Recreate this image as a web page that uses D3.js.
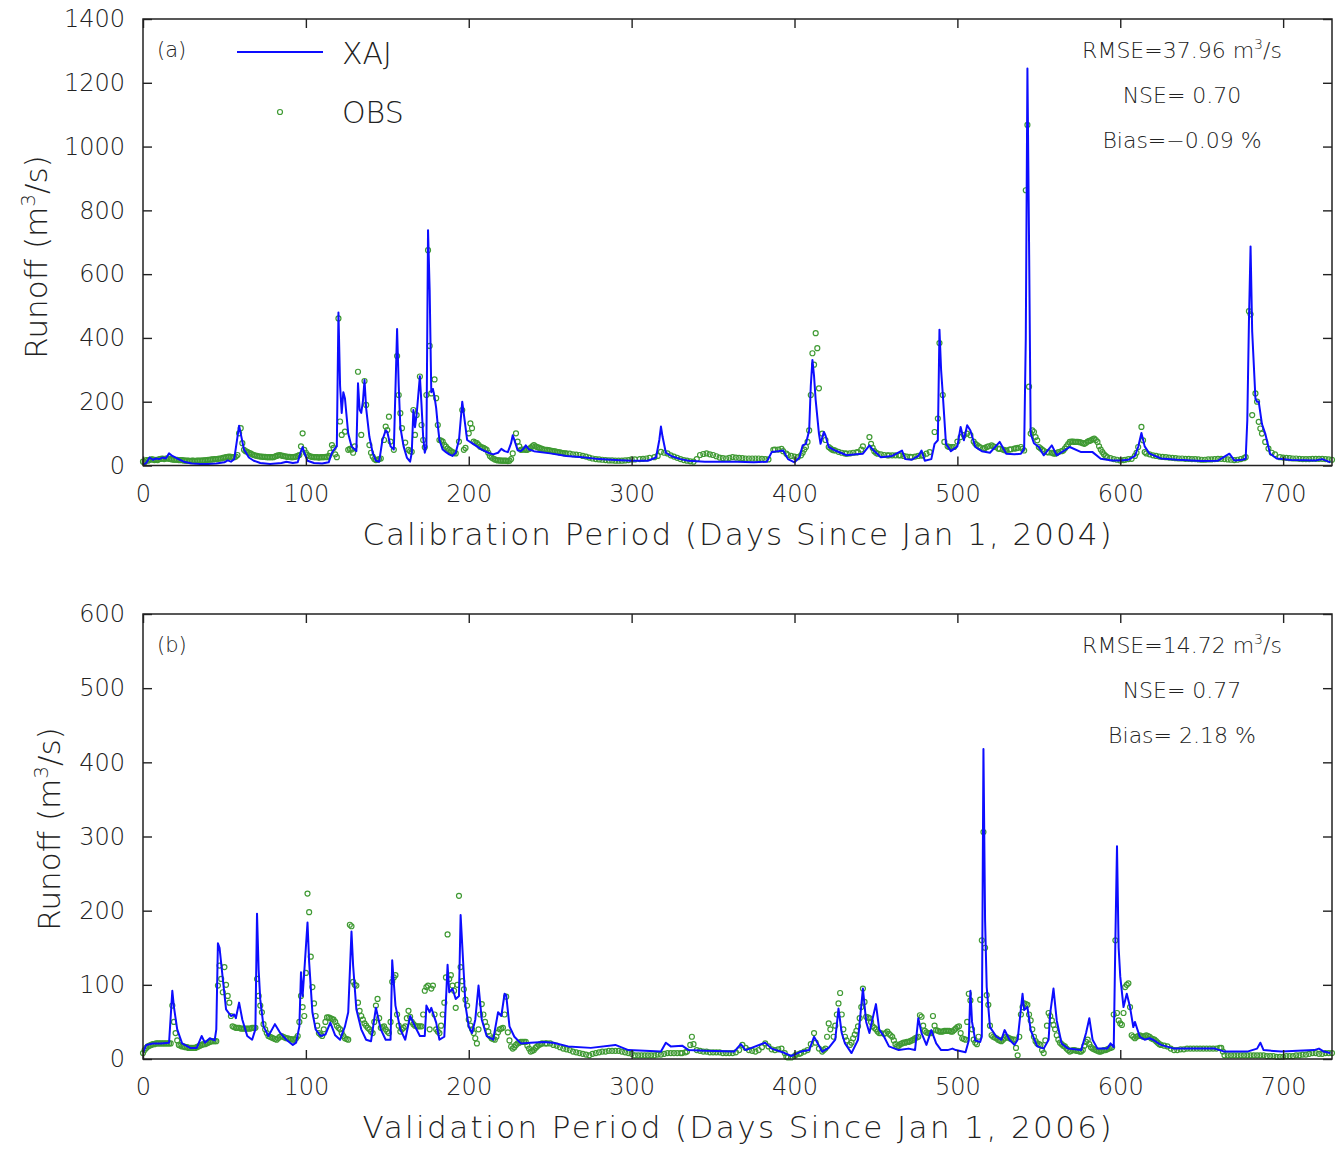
<!DOCTYPE html>
<html>
<head>
<meta charset="utf-8">
<script src="https://cdn.jsdelivr.net/npm/d3@7"></script>
<style>
  body { margin: 0; background: #fff; }
  svg { display: block; }
  text { font-family: "DejaVu Sans", sans-serif; font-weight: 200; }
</style>
</head>
<body>
<svg width="1341" height="1149"></svg>
<script>
// ---- data (day, runoff m3/s) ----

// (a) calibration period, simulated (XAJ)
const calSim = [[0,2],[2,8],[4,25],[6,18],[8,22],[10,20],[12,25],[14,22],[16,38],[18,30],[21,22],[25,12],[30,6],[35,5],[40,5],[45,6],[50,10],[52,16],[54,12],[56,20],[58,90],[59,125],[60,100],[62,50],[65,25],[68,15],[72,8],[78,5],[85,8],[88,12],[92,8],[95,10],[97,45],[98,58],[99,40],[101,15],[105,8],[110,6],[114,10],[116,40],[118,55],[119,60],[120,480],[121,250],[122,165],[123,230],[124,210],[126,100],[128,60],[131,45],[132,258],[133,175],[134,165],[135,200],[136,268],[137,180],[139,90],[141,40],[143,15],[145,12],[147,80],[149,110],[150,105],[152,60],[154,50],[156,428],[157,250],[158,120],[160,60],[162,25],[164,12],[165,40],[166,174],[167,120],[168,160],[170,280],[171,190],[172,90],[173,40],[174,60],[175,738],[176,550],[177,230],[178,240],[179,215],[180,180],[181,125],[182,80],[184,50],[186,42],[188,35],[190,30],[192,40],[194,80],[196,200],[197,160],[199,80],[202,70],[205,60],[208,50],[212,40],[215,35],[218,40],[220,52],[222,45],[224,42],[226,70],[227,95],[228,80],[230,48],[232,45],[234,55],[235,63],[237,50],[240,45],[250,38],[260,30],[270,26],[280,20],[290,17],[300,15],[310,15],[315,25],[317,80],[318,122],[319,90],[321,40],[325,28],[330,20],[335,15],[345,12],[355,12],[365,12],[375,10],[383,12],[386,42],[390,45],[393,47],[396,20],[400,10],[403,25],[405,63],[407,68],[409,110],[410,250],[411,331],[412,280],[413,205],[415,100],[416,68],[418,105],[419,95],[421,58],[425,47],[432,32],[438,35],[442,37],[446,63],[448,50],[453,26],[460,30],[466,47],[468,20],[472,18],[476,30],[478,47],[480,15],[484,20],[486,68],[488,79],[489,426],[490,300],[491,226],[493,68],[496,45],[500,60],[502,121],[504,79],[506,126],[508,110],[511,58],[515,45],[520,40],[526,74],[530,37],[535,35],[539,37],[541,53],[542,400],[543,1245],[544,700],[545,100],[547,70],[550,58],[553,32],[558,63],[561,32],[569,58],[576,42],[583,42],[588,21],[595,16],[600,16],[605,18],[609,30],[611,58],[613,102],[615,60],[618,37],[625,22],[635,18],[650,14],[660,15],[667,37],[670,16],[675,18],[677,21],[678,142],[679,450],[680,687],[681,420],[683,210],[684,200],[685,200],[687,130],[689,100],[692,37],[696,22],[705,17],[720,16],[724,20],[729,10]];

// (a) calibration period, observed (OBS)
const calObs = [[0,12],[1,10],[2,17],[3,15],[4,18],[5,19],[6,19],[7,17],[8,18],[9,17],[10,20],[11,21],[12,22],[13,20],[14,22],[15,22],[16,21],[17,20],[18,19],[19,18],[20,18],[21,18],[22,17],[23,17],[24,17],[25,16],[26,15],[27,15],[28,15],[29,14],[30,15],[31,15],[32,14],[33,15],[34,15],[35,15],[36,15],[37,16],[38,16],[39,17],[40,18],[41,18],[42,19],[43,19],[44,20],[45,20],[46,21],[47,22],[48,22],[49,24],[50,25],[51,26],[52,27],[53,28],[54,27],[55,26],[56,26],[57,28],[58,33],[59,101],[60,117],[61,70],
[62,49],[63,45],[64,43],[65,40],[66,38],[67,35],[68,33],[69,31],[70,30],[71,29],[72,28],[73,28],[74,27],[75,27],[76,26],[77,26],[78,26],[79,26],[80,26],[81,28],[82,30],[83,32],[84,33],[85,31],[86,30],[87,29],[88,28],[89,27],[90,27],[91,26],[92,26],[93,27],[94,28],[95,30],[96,33],[97,60],[98,101],[99,49],
[100,40],[101,33],[102,30],[103,28],[104,27],[105,26],[106,26],[107,26],[108,25],[109,26],[110,26],[111,26],[112,27],[113,26],[114,30],[115,40],[116,64],[117,55],[118,35],[119,26],[120,461],[121,138],[122,96],[124,106],[126,49],[127,52],[128,50],[129,40],[130,60],[132,294],[134,96],[136,265],[137,190],[139,64],[140,40],[141,28],[142,20],[143,17],[144,18],[145,20],[146,22],[148,80],[149,122],[150,111],[151,153],[152,75],[154,49],[156,343],[157,221],[158,164],[159,117],[161,72],[163,49],[164,45],[165,43],[166,174],[167,96],[168,158],[170,279],[171,127],[172,80],[173,57],[174,221],[175,675],[176,375],[177,226],[179,270],[180,211],[181,127],[182,80],[183,78],[184,75],[185,65],[186,59],[187,53],[188,49],[189,45],[190,42],[191,40],[192,38],[194,75],[196,174],[197,49],[198,55],[200,101],[201,132],[202,117],[203,75],[204,72],
[205,70],[206,65],[207,59],[208,57],[209,55],[210,52],[211,49],[212,40],[213,30],[214,25],[215,22],[216,19],[217,17],[218,16],[219,16],[220,15],[221,15],[222,15],[223,15],[224,14],[225,15],[226,20],[227,38],[229,101],[230,75],[231,60],[232,49],[233,50],[234,50],[235,49],[236,49],[237,52],[238,55],[239,60],[240,64],[241,60],[242,58],[243,56],[244,54],[245,52],[246,50],[247,49],[248,49],[249,48],[250,47],[251,46],[252,45],[253,44],[254,43],[255,42],[256,41],[257,40],[258,39],[259,38],[260,38],[262,37],[264,35],[266,34],[268,33],[270,30],[272,28],[274,25],[276,22],[278,20],[280,19],[282,18],[284,17],[286,16],[288,16],[290,15],[292,15],[294,15],[296,16],[298,17],[300,19],[302,19],[305,20],[307,21],[309,22],[311,24],[314,26],[316,30],[318,43],[320,40],[322,38],[324,32],[326,28],[328,24],[330,20],[332,17],[334,15],[336,13],[338,12],[340,20],[342,33],[344,36],[346,38],[348,35],[350,33],[352,29],[354,25],[356,23],[358,22],[360,24],[362,26],[364,25],[366,24],[368,23],[370,22],[372,22],[374,22],[376,22],[378,22],[380,21],[382,20],[384,19],
[387,49],[388,50],[390,50],[392,52],[393,45],[395,37],[396,33],[398,30],[400,28],[402,26],[404,32],[405,40],[406,50],[407,58],[408,74],[409,110],[410,221],[411,352],[412,316],[413,415],[414,368],[415,242],[417,100],[419,80],
[421,58],[422,54],[423,50],[424,48],[425,47],[427,43],[429,40],[431,38],[432,37],[434,38],[436,40],[438,41],[439,42],[441,50],[442,60],[446,89],[447,68],[448,55],[449,45],[450,40],[451,37],[453,35],[455,33],[457,32],[458,32],[460,32],[462,32],[464,32],[465,32],[467,30],[469,28],[471,27],[472,26],[474,28],[476,30],[478,31],[479,32],[481,37],[483,42],
[486,105],[488,147],[489,384],[491,221],[492,74],[494,60],[495,58],[496,58],[497,58],[498,58],[500,75],[502,89],[504,95],[506,100],[508,95],[510,75],[511,68],[512,64],[513,60],[514,57],[516,53],[517,55],[518,58],[519,60],[521,63],[522,60],[523,58],[525,53],[526,52],[528,50],[529,48],[530,47],[532,50],[533,51],[535,53],[536,54],[537,55],[539,58],[540,52],[541,47],[542,863],[543,1068],[544,247],[545,100],[546,110],[547,105],[548,89],[549,79],[550,58],[551,54],
[552,50],[553,46],[555,42],[556,41],[558,40],[559,38],[560,37],[561,39],[562,42],[564,45],[565,47],[566,53],[567,60],[568,67],[569,74],[570,75],[571,75],[572,74],[573,74],[574,74],[575,73],[576,72],[577,70],[578,68],[579,71],[580,75],[581,77],[582,79],[583,82],[584,84],[585,80],[586,74],[587,60],[588,50],[589,42],[590,35],[591,30],[592,26],[594,23],[596,20],[598,18],[600,16],[602,17],[603,18],[605,20],[607,21],[609,30],
[610,40],[611,58],[613,121],[614,79],[615,42],[616,38],[618,35],[620,32],[622,30],[624,28],[626,27],[628,26],[630,25],[632,24],[634,23],[636,22],[638,22],[640,21],[642,21],[644,20],[646,20],[648,19],[650,18],[652,18],[654,19],[656,19],[658,20],[660,21],[662,21],[664,20],[666,19],[668,18],[670,17],[672,18],[674,20],[676,23],[677,26],[679,484],[680,474],[681,158],[683,226],[684,200],[685,137],[686,116],[687,100],[689,74],[691,53],[693,40],[695,35],[698,26],[700,25],[702,24],[704,23],[706,22],[708,22],[710,21],[712,20],[714,20],[716,20],[718,21],[720,21],[722,21],[724,21],[726,20],[728,19],[730,18]];

// (b) validation period, simulated (XAJ)
const valSim = [[0,8],[2,19],[6,21],[11,21],[16,22],[18,92],[19,70],[21,40],[24,21],[29,15],[33,15],[36,31],[38,22],[41,28],[44,25],[45,40],[46,156],[47,150],[49,108],[51,67],[54,58],[56,60],[57,55],[59,76],[61,53],[64,31],[67,26],[69,40],[70,196],[71,120],[72,80],[74,44],[77,31],[81,47],[84,36],[88,26],[92,19],[94,22],[96,44],[97,117],[98,85],[99,117],[101,184],[102,131],[104,63],[106,40],[109,31],[112,33],[115,49],[118,32],[121,26],[124,44],[126,63],[128,172],[129,126],[131,67],[134,40],[137,26],[140,24],[143,69],[146,40],[149,26],[152,26],[153,133],[155,72],[158,40],[161,26],[164,58],[167,44],[170,31],[173,31],[174,72],[176,63],[177,69],[180,49],[182,26],[185,30],[187,127],[188,90],[190,95],[192,81],[194,85],[195,194],[197,113],[198,72],[200,44],[202,35],[204,53],[206,99],[208,53],[211,31],[215,26],[218,63],[220,58],[222,88],[223,86],[225,44],[228,30],[232,21],[238,22],[246,23],[252,22],[261,17],[275,15],[290,19],[298,12],[318,10],[321,22],[324,17],[331,18],[335,12],[345,11],[363,10],[367,20],[370,12],[382,22],[386,14],[394,8],[398,4],[404,10],[409,12],[412,30],[417,10],[421,15],[425,26],[427,68],[429,35],[431,21],[435,8],[439,26],[442,95],[444,50],[446,35],[448,55],[450,74],[452,40],[455,30],[458,17],[464,12],[470,14],[474,12],[476,55],[478,35],[481,19],[484,39],[487,21],[490,12],[494,12],[497,14],[499,12],[505,9],[507,25],[508,92],[509,50],[511,25],[514,23],[515,30],[516,418],[517,187],[518,97],[520,43],[524,30],[527,26],[529,39],[532,26],[535,19],[537,26],[540,88],[541,66],[543,70],[545,39],[549,17],[553,14],[556,26],[557,62],[559,95],[561,52],[564,21],[568,14],[576,12],[579,35],[581,55],[583,26],[586,14],[592,14],[594,21],[596,16],[597,160],[598,287],[599,150],[600,111],[602,70],[604,88],[606,70],[608,43],[609,50],[612,30],[615,26],[618,28],[620,26],[625,19],[633,14],[648,14],[658,14],[664,10],[678,10],[684,14],[686,22],[688,12],[699,10],[709,11],[719,12],[722,14],[725,10],[729,8]];

// (b) validation period, observed (OBS)
const valObs = [[0,8],[1,12],[2,15],[3,17],[4,18],[5,19],[6,20],[7,20],[8,21],[9,21],[10,21],[11,21],[12,21],[13,21],[14,21],[15,21],[16,21],[17,21],[18,72],[19,50],[20,35],[21,25],[22,19],[23,18],[24,17],[25,17],[26,16],[27,16],[28,15],[29,15],[30,15],[31,15],[32,15],[33,16],[34,17],[35,18],[36,19],[37,20],[38,20],[39,21],[40,22],[41,23],[42,24],[43,24],[44,24],[45,24],[46,99],[47,126],[48,108],[49,90],[50,124],[51,100],[52,85],[53,76],[54,58],[55,44],[56,43],[57,42],[58,42],[59,42],[60,41],[61,41],[62,41],[63,41],[64,41],[65,41],[66,41],[67,42],[68,42],[69,42],[70,108],[71,85],[72,72],[73,63],[74,47],[75,40],[76,35],[77,31],[78,30],[79,29],[80,28],[81,27],[82,26],[83,28],[84,30],[85,31],[86,30],[87,29],[88,28],[89,28],[90,27],[91,27],[92,26],[93,26],[94,28],[95,31],[96,50],[97,85],[98,70],[99,58],[100,116],[101,223],[102,198],[103,138],[104,97],[105,75],[106,58],[107,45],[108,35],[109,33],[110,31],[111,40],[112,50],[113,56],[114,56],[115,55],[116,54],[117,53],[118,50],[119,45],[120,42],[121,40],[122,35],[123,31],[124,28],[125,27],[126,26],[127,181],[128,179],[129,104],[130,100],[131,99],[132,76],[133,65],[134,58],[135,53],[136,48],[137,45],[138,42],[139,40],[140,37],[141,35],[142,50],[143,72],[144,81],[145,55],[146,42],[147,43],[148,44],[149,40],[150,37],[151,35],[152,50],[153,104],[154,110],[155,113],[156,60],[157,45],[158,37],[159,40],[160,42],[161,44],[162,55],[163,65],[164,57],[165,50],[166,47],[167,45],[168,44],[169,44],[170,44],[171,44],[172,60],[173,92],[174,97],[175,99],[176,40],[177,95],[178,99],[179,60],[180,40],[181,37],[182,35],[183,45],[184,60],[185,76],[186,110],[187,168],[188,108],[189,113],[190,99],[191,92],[192,69],[193,100],[194,220],[195,124],[196,105],[197,94],[198,80],[199,72],[200,53],[201,45],[202,40],[203,35],[204,28],[205,21],[206,40],[207,60],[208,74],[209,60],[210,50],[211,44],[212,37],[213,31],[214,28],[215,27],[216,26],[217,30],[218,36],[219,40],[220,41],[221,42],[222,60],[223,84],[224,36],[225,25],[226,17],[227,14],[228,16],[229,19],[230,21],[231,22],[232,23],[233,23],[234,23],[235,23],[236,18],[237,14],[238,10],[239,11],[240,12],[241,15],[242,17],[243,19],[244,20],[245,21],[247,21],[248,21],[250,21],[252,19],[254,18],[256,16],[258,14],[260,13],[262,12],[264,10],[266,9],[268,8],[270,7],[272,6],[274,5],[276,7],[278,8],[280,9],[282,10],[284,10],[286,11],[288,11],[290,11],[292,11],[294,10],[296,9],[298,8],[300,7],[302,5],[304,5],[306,5],[308,5],[310,5],[312,5],[314,5],[316,6],[318,6],[320,7],[322,8],[324,8],[326,8],[328,8],[330,8],[331,8],[333,9],[334,10],[336,19],[337,30],[338,20],[340,12],[342,11],[344,10],[346,10],[348,9],[350,9],[352,9],[354,9],[356,8],[358,8],[360,8],[362,8],[364,9],[366,12],[368,19],[370,15],[372,12],[374,11],[376,10],[378,12],[380,16],[382,21],[384,17],[386,13],[388,12],[390,13],[392,14],[394,8],[395,3],[396,2],[398,2],[400,4],[401,6],[403,7],[404,8],[406,10],[408,12],[410,20],[412,35],[413,22],[415,14],[417,10],[418,12],[419,14],[420,30],[421,48],[422,40],[424,30],[425,45],[426,60],[427,75],[428,89],[429,60],[430,40],[431,30],[432,25],[434,19],[435,22],[436,28],[437,33],[438,38],[439,44],[440,55],[441,70],[442,95],[443,77],[444,57],[445,56],[446,55],[447,50],[448,44],[449,42],[450,40],[451,37],[452,35],[453,35],[455,34],[456,35],[457,37],[458,34],[459,32],[460,30],[461,25],[462,20],[463,17],[464,18],[465,20],[466,21],[467,22],[468,22],[469,23],[470,23],[471,24],[472,25],[473,26],[474,28],[475,29],[476,30],[477,59],[478,57],[479,45],[480,38],[481,36],[482,35],[483,35],[484,35],[485,58],[486,45],[487,39],[488,38],[489,37],[490,37],[491,37],[492,38],[493,38],[494,38],[495,38],[496,37],[497,37],[498,39],[499,41],[500,43],[501,44],[502,35],[503,28],[504,27],[505,26],[506,50],[507,88],[508,79],[509,40],[510,26],[511,22],[512,20],[513,30],[514,80],[515,160],[516,306],[517,150],[518,86],[519,73],[520,45],[521,32],[522,30],[523,29],[524,28],[525,26],[526,25],[527,24],[528,26],[529,28],[530,30],[531,29],[532,28],[533,27],[534,26],[535,26],[536,15],[537,5],[538,30],[539,60],[540,70],[541,75],[542,74],[543,73],[544,60],[545,52],[546,40],[547,30],[548,24],[549,21],[550,20],[551,19],[552,12],[553,8],[554,25],[555,45],[556,62],[557,58],[558,52],[559,46],[560,40],[561,32],[562,26],[563,22],[564,20],[565,18],[566,17],[567,14],[568,12],[569,10],[570,11],[571,12],[572,12],[573,11],[574,11],[575,10],[576,10],[577,12],[578,18],[579,23],[580,26],[581,20],[582,16],[583,14],[584,13],[585,12],[586,11],[587,10],[588,10],[589,11],[590,12],[591,12],[592,13],[593,14],[594,15],[595,16],[596,60],[597,160],[598,62],[599,52],[600,48],[601,46],[602,62],[603,97],[604,100],[605,102],[606,70],[607,32],[608,30],[609,28],[610,30],[611,31],[612,32],[613,31],[614,30],[615,31],[616,32],[617,31],[618,30],[619,28],[620,27],[621,26],[622,24],[623,22],[624,20],[625,19],[627,18],[629,17],[631,14],[633,12],[635,12],[637,13],[639,13],[641,14],[643,14],[645,14],[647,14],[649,14],[651,14],[653,14],[655,14],[657,14],[659,14],[661,15],[662,15],[663,10],[664,5],[666,5],[668,5],[670,5],[672,5],[674,5],[676,5],[678,5],[680,5],[682,5],[684,5],[686,5],[688,5],[690,4],[692,4],[694,4],[696,3],[698,3],[700,3],[702,4],[704,4],[706,4],[708,5],[710,5],[712,6],[714,6],[716,7],[718,8],[720,8],[722,7],[724,7],[726,8],[728,8],[730,8]];

const xTicks = [0, 100, 200, 300, 400, 500, 600, 700];
const calYTicks = [0, 200, 400, 600, 800, 1000, 1200, 1400];
const valYTicks = [0, 100, 200, 300, 400, 500, 600];
const calStats = ["RMSE=37.96 m", "NSE= 0.70", "Bias=\u22120.09 %"];
const valStats = ["RMSE=14.72 m", "NSE= 0.77", "Bias= 2.18 %"];

// ---- layout ----
const svg = d3.select("svg");
const left = 143, right = 1332;
const lineColor = "#0d0dff";
const obsColor = "#3f9a33";
const textColor = "#222";

const x = d3.scaleLinear().domain([0, 730]).range([left, right]);

function drawPanel(p) {
    const y = d3.scaleLinear().domain([0, p.yMax]).range([p.bottom, p.top]);
    const g = svg.append("g");

    const clipId = "clip-" + p.id;
    svg.append("clipPath").attr("id", clipId)
        .append("rect")
        .attr("x", left).attr("y", p.top)
        .attr("width", right - left).attr("height", p.bottom - p.top);

    // Observed circles
    g.append("g")
        .selectAll("circle")
        .data(p.obs)
        .enter()
        .append("circle")
        .attr("cx", d => x(d[0]))
        .attr("cy", d => y(d[1]))
        .attr("r", 2.5)
        .attr("fill", "none")
        .attr("stroke", obsColor)
        .attr("stroke-width", 1.2);

    // Simulated line
    const line = d3.line().x(d => x(d[0])).y(d => y(d[1]));
    g.append("path")
        .datum(p.sim)
        .attr("clip-path", `url(#${clipId})`)
        .attr("fill", "none")
        .attr("stroke", lineColor)
        .attr("stroke-width", 2)
        .attr("stroke-linejoin", "round")
        .attr("d", line);

    // Axes, ticks pointing inward
    const fmt = d3.format("d");
    const bottomAxis = g.append("g")
        .attr("transform", `translate(0,${p.bottom})`)
        .call(d3.axisBottom(x).tickValues(xTicks).tickFormat(fmt).tickSize(-9).tickPadding(19));
    const leftAxis = g.append("g")
        .attr("transform", `translate(${left},0)`)
        .call(d3.axisLeft(y).tickValues(p.yTicks).tickFormat(fmt).tickSize(-9).tickPadding(18));
    const topAxis = g.append("g")
        .attr("transform", `translate(0,${p.top})`)
        .call(d3.axisTop(x).tickValues(xTicks).tickSize(-9).tickFormat(""));
    const rightAxis = g.append("g")
        .attr("transform", `translate(${right},0)`)
        .call(d3.axisRight(y).tickValues(p.yTicks).tickSize(-9).tickFormat(""));

    [bottomAxis, leftAxis, topAxis, rightAxis].forEach(a => {
        a.select(".domain").remove();
        a.selectAll(".tick line").attr("stroke", "#222").attr("stroke-width", 1.4);
        a.selectAll(".tick text")
            .attr("font-family", "DejaVu Sans, sans-serif")
            .attr("font-weight", 200)
            .attr("font-size", 24)
            .attr("fill", textColor);
    });

    // Frame
    g.append("rect")
        .attr("x", left).attr("y", p.top)
        .attr("width", right - left).attr("height", p.bottom - p.top)
        .attr("fill", "none")
        .attr("stroke", "#222")
        .attr("stroke-width", 1.5);

    // Panel letter
    g.append("text")
        .attr("x", left + 14).attr("y", p.top + 38)
        .attr("font-size", 21).attr("fill", textColor)
        .text(p.letter);

    // Stats
    const sx = 1182;
    p.stats.forEach((s, i) => {
        const t = g.append("text")
            .attr("x", sx).attr("y", p.top + 39 + i * 45)
            .attr("text-anchor", "middle")
            .attr("font-size", 22).attr("fill", textColor);
        if (i === 0) {
            t.append("tspan").text(s);
            t.append("tspan").attr("font-size", 14).attr("dy", -9).text("3");
            t.append("tspan").attr("dy", 9).text("/s");
        } else {
            t.text(s);
        }
    });

    // X axis title
    g.append("text")
        .attr("x", 737).attr("y", p.bottom + 79)
        .attr("text-anchor", "middle")
        .attr("font-size", 31).attr("fill", textColor)
        .attr("textLength", 749).attr("lengthAdjust", "spacing")
        .text(p.xTitle);

    // Y axis title
    const yt = g.append("text")
        .attr("transform", `translate(${p.yTitleX},${p.yTitleY}) rotate(-90)`)
        .attr("text-anchor", "middle")
        .attr("font-size", 31).attr("fill", textColor);
    yt.append("tspan").text("Runoff (m");
    yt.append("tspan").attr("font-size", 20).attr("dy", -12).text("3");
    yt.append("tspan").attr("dy", 12).text("/s)");

    return y;
}

drawPanel({
    id: "a", top: 19, bottom: 465.5, yMax: 1400, yTicks: calYTicks,
    sim: calSim, obs: calObs, letter: "(a)", stats: calStats,
    xTitle: "Calibration Period (Days Since Jan 1, 2004)",
    yTitleX: 47, yTitleY: 257
});

drawPanel({
    id: "b", top: 614, bottom: 1059, yMax: 600, yTicks: valYTicks,
    sim: valSim, obs: valObs, letter: "(b)", stats: valStats,
    xTitle: "Validation Period (Days Since Jan 1, 2006)",
    yTitleX: 60, yTitleY: 829
});

// Legend (panel a)
const legend = svg.append("g");
legend.append("line")
    .attr("x1", 237).attr("x2", 323)
    .attr("y1", 52).attr("y2", 52)
    .attr("stroke", lineColor).attr("stroke-width", 1.8);
legend.append("text")
    .attr("x", 342).attr("y", 64)
    .attr("font-size", 30).attr("fill", textColor)
    .text("XAJ");
legend.append("circle")
    .attr("cx", 280).attr("cy", 112).attr("r", 2.5)
    .attr("fill", "none").attr("stroke", obsColor).attr("stroke-width", 1.2);
legend.append("text")
    .attr("x", 342).attr("y", 123)
    .attr("font-size", 30).attr("fill", textColor)
    .text("OBS");
</script>
</body>
</html>
